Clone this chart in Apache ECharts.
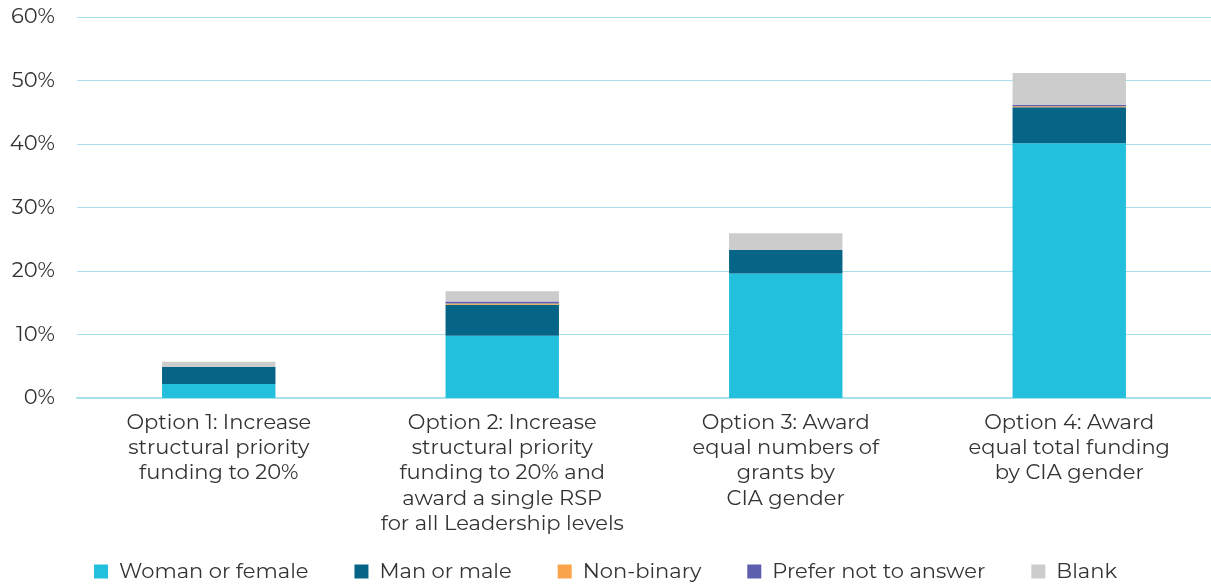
<!DOCTYPE html>
<html><head><meta charset="utf-8">
<script src="https://cdn.jsdelivr.net/npm/echarts@6/dist/echarts.min.js"></script>
<style>html,body{margin:0;padding:0;background:#fff}#c{width:1211px;height:587px}</style>
</head><body><div id="c"></div>
<script>
const categories = [
  "Option 1: Increase\nstructural priority\nfunding to 20%",
  "Option 2: Increase\nstructural priority\nfunding to 20% and\naward a single RSP\nfor all Leadership levels",
  "Option 3: Award\nequal numbers of\ngrants by\nCIA gender",
  "Option 4: Award\nequal total funding\nby CIA gender"
];
const womanFemale = [2.2, 9.8, 19.6, 40.1];
const manMale = [2.7, 4.9, 3.7, 5.7];
const nonBinary = [0, 0.2, 0, 0.15];
const preferNot = [0, 0.3, 0.05, 0.25];
const blank = [0.8, 1.6, 2.6, 5.0];
const yTicks = [0, 10, 20, 30, 40, 50, 60];

const font = "Montserrat, 'Noto Sans', sans-serif";
function s(name, data, color) {
  return {name, type: 'bar', stack: 'a', data, barWidth: '40%',
    itemStyle: {color}, emphasis: {disabled: true}};
}
const chart = echarts.init(document.getElementById('c'));
chart.setOption({
  animation: false,
  textStyle: {fontFamily: font},
  grid: {left: 77, right: 0, top: 17, bottom: 189},
  legend: {
    bottom: 0, left: 'center', itemWidth: 14, itemHeight: 14, itemGap: 46, icon: 'rect',
    textStyle: {fontSize: 21, color: '#333', fontFamily: font, padding: [0, 0, 0, 6]},
    data: ['Woman or female', 'Man or male', 'Non-binary', 'Prefer not to answer', 'Blank']
  },
  xAxis: {
    type: 'category', data: categories,
    axisLine: {lineStyle: {color: '#a8e1ee', width: 2}},
    axisTick: {show: false},
    axisLabel: {fontSize: 21, color: '#333', lineHeight: 25.3, margin: 12, interval: 0}
  },
  yAxis: {
    type: 'value', min: yTicks[0], max: yTicks[yTicks.length - 1], interval: 10,
    axisLine: {show: false}, axisTick: {show: false},
    splitLine: {lineStyle: {color: '#a8e1ee', width: 1}},
    axisLabel: {fontSize: 21, color: '#333', margin: 22, formatter: v => v + '%'}
  },
  series: [
    s('Woman or female', womanFemale, '#23c0de'),
    s('Man or male', manMale, '#066487'),
    s('Non-binary', nonBinary, '#f9a34a'),
    s('Prefer not to answer', preferNot, '#5b5fad'),
    s('Blank', blank, '#cccccc')
  ]
});
</script></body></html>
